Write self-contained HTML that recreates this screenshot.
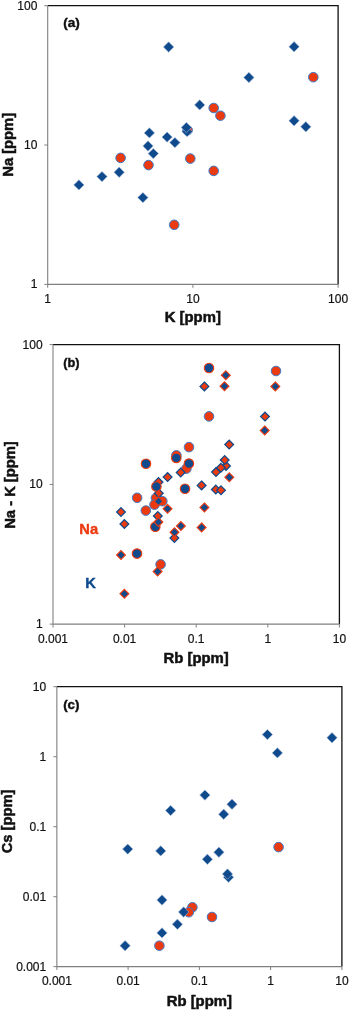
<!DOCTYPE html>
<html><head><meta charset="utf-8"><title>Figure</title>
<style>html,body{margin:0;padding:0;background:#fff}svg{display:block;font-family:"Liberation Sans",Arial,sans-serif}</style>
</head><body>
<svg width="350" height="1010" viewBox="0 0 350 1010">
<rect width="350" height="1010" fill="#fff"/>
<path d="M47.7 5.7H338.1V284.4" fill="none" stroke="#111" stroke-width="1.3"/>
<path d="M47.7 5.7V284.4H338.1" fill="none" stroke="#808080" stroke-width="1.1"/>
<path d="M47.7 284.4v3.4" stroke="#808080" stroke-width="1"/>
<path d="M192.9 284.4v3.4" stroke="#808080" stroke-width="1"/>
<path d="M338.1 284.4v3.4" stroke="#808080" stroke-width="1"/>
<path d="M47.7 5.7h-3.4" stroke="#808080" stroke-width="1"/>
<path d="M47.7 145.0h-3.4" stroke="#808080" stroke-width="1"/>
<path d="M47.7 284.4h-3.4" stroke="#808080" stroke-width="1"/>
<text x="37.4" y="9.7" text-anchor="end" font-size="12" fill="#111" stroke="#111" stroke-width="0.2">100</text>
<text x="37.4" y="149.1" text-anchor="end" font-size="12" fill="#111" stroke="#111" stroke-width="0.2">10</text>
<text x="37.4" y="288.4" text-anchor="end" font-size="12" fill="#111" stroke="#111" stroke-width="0.2">1</text>
<text x="47.7" y="302.6" text-anchor="middle" font-size="12" fill="#111" stroke="#111" stroke-width="0.2">1</text>
<text x="192.9" y="302.6" text-anchor="middle" font-size="12" fill="#111" stroke="#111" stroke-width="0.2">10</text>
<text x="338.1" y="302.6" text-anchor="middle" font-size="12" fill="#111" stroke="#111" stroke-width="0.2">100</text>
<text transform="translate(192.8 322.1) scale(1.015 1.0)" text-anchor="middle" font-size="14.67" font-weight="bold" fill="#111" stroke="#111" stroke-width="0.5">K [ppm]</text>
<text transform="translate(12.9 144.8) rotate(-90) scale(1.005 1.0)" text-anchor="middle" font-size="14.67" font-weight="bold" fill="#111" stroke="#111" stroke-width="0.5">Na [ppm]</text>
<text transform="translate(63.2 26.6) scale(1.1 1)" font-size="12.3" font-weight="bold" fill="#111" stroke="#111" stroke-width="0.4">(a)</text>
<circle cx="313.3" cy="77.2" r="4.80" fill="#EC3A10" stroke="#3C7CCB" stroke-width="1.0"/>
<circle cx="213.7" cy="108.0" r="4.80" fill="#EC3A10" stroke="#3C7CCB" stroke-width="1.0"/>
<circle cx="220.4" cy="115.7" r="4.80" fill="#EC3A10" stroke="#3C7CCB" stroke-width="1.0"/>
<circle cx="120.6" cy="157.9" r="4.80" fill="#EC3A10" stroke="#3C7CCB" stroke-width="1.0"/>
<circle cx="148.5" cy="165.1" r="4.80" fill="#EC3A10" stroke="#3C7CCB" stroke-width="1.0"/>
<circle cx="190.3" cy="158.6" r="4.80" fill="#EC3A10" stroke="#3C7CCB" stroke-width="1.0"/>
<circle cx="213.7" cy="170.9" r="4.80" fill="#EC3A10" stroke="#3C7CCB" stroke-width="1.0"/>
<circle cx="174.2" cy="224.8" r="4.80" fill="#EC3A10" stroke="#3C7CCB" stroke-width="1.0"/>
<circle cx="187.6" cy="130.2" r="4.80" fill="#EC3A10" stroke="#3C7CCB" stroke-width="1.0"/>
<path d="M168.6 41.8L173.8 47.0L168.6 52.2L163.4 47.0Z" fill="#0E4A8C" stroke="#a9bedb" stroke-width="0.6"/>
<path d="M294.1 41.5L299.3 46.7L294.1 51.9L288.9 46.7Z" fill="#0E4A8C" stroke="#a9bedb" stroke-width="0.6"/>
<path d="M248.9 72.3L254.1 77.5L248.9 82.7L243.7 77.5Z" fill="#0E4A8C" stroke="#a9bedb" stroke-width="0.6"/>
<path d="M199.7 99.7L204.9 104.9L199.7 110.1L194.5 104.9Z" fill="#0E4A8C" stroke="#a9bedb" stroke-width="0.6"/>
<path d="M294.1 115.6L299.3 120.8L294.1 126.0L288.9 120.8Z" fill="#0E4A8C" stroke="#a9bedb" stroke-width="0.6"/>
<path d="M305.8 121.6L311.0 126.8L305.8 132.0L300.6 126.8Z" fill="#0E4A8C" stroke="#a9bedb" stroke-width="0.6"/>
<path d="M149.4 127.7L154.6 132.9L149.4 138.1L144.2 132.9Z" fill="#0E4A8C" stroke="#a9bedb" stroke-width="0.6"/>
<path d="M167.1 131.9L172.3 137.1L167.1 142.3L161.9 137.1Z" fill="#0E4A8C" stroke="#a9bedb" stroke-width="0.6"/>
<path d="M187.1 126.4L192.3 131.6L187.1 136.8L181.9 131.6Z" fill="#0E4A8C" stroke="#a9bedb" stroke-width="0.6"/>
<path d="M186.4 122.3L191.6 127.5L186.4 132.7L181.2 127.5Z" fill="#0E4A8C" stroke="#a9bedb" stroke-width="0.6"/>
<path d="M148.0 140.8L153.2 146.0L148.0 151.2L142.8 146.0Z" fill="#0E4A8C" stroke="#a9bedb" stroke-width="0.6"/>
<path d="M153.3 148.4L158.5 153.6L153.3 158.8L148.1 153.6Z" fill="#0E4A8C" stroke="#a9bedb" stroke-width="0.6"/>
<path d="M174.9 137.4L180.1 142.6L174.9 147.8L169.7 142.6Z" fill="#0E4A8C" stroke="#a9bedb" stroke-width="0.6"/>
<path d="M119.2 167.1L124.4 172.3L119.2 177.5L114.0 172.3Z" fill="#0E4A8C" stroke="#a9bedb" stroke-width="0.6"/>
<path d="M102.0 171.4L107.2 176.6L102.0 181.8L96.8 176.6Z" fill="#0E4A8C" stroke="#a9bedb" stroke-width="0.6"/>
<path d="M78.9 179.7L84.1 184.9L78.9 190.1L73.7 184.9Z" fill="#0E4A8C" stroke="#a9bedb" stroke-width="0.6"/>
<path d="M142.9 192.4L148.1 197.6L142.9 202.8L137.7 197.6Z" fill="#0E4A8C" stroke="#a9bedb" stroke-width="0.6"/>
<path d="M53.0 344.6H339.4V624.1" fill="none" stroke="#111" stroke-width="1.3"/>
<path d="M53.0 344.6V624.1H339.4" fill="none" stroke="#808080" stroke-width="1.1"/>
<path d="M53.0 624.1v3.4" stroke="#808080" stroke-width="1"/>
<path d="M124.6 624.1v3.4" stroke="#808080" stroke-width="1"/>
<path d="M196.2 624.1v3.4" stroke="#808080" stroke-width="1"/>
<path d="M267.8 624.1v3.4" stroke="#808080" stroke-width="1"/>
<path d="M339.4 624.1v3.4" stroke="#808080" stroke-width="1"/>
<path d="M53.0 344.6h-3.4" stroke="#808080" stroke-width="1"/>
<path d="M53.0 484.4h-3.4" stroke="#808080" stroke-width="1"/>
<path d="M53.0 624.1h-3.4" stroke="#808080" stroke-width="1"/>
<text x="42.6" y="348.6" text-anchor="end" font-size="12" fill="#111" stroke="#111" stroke-width="0.2">100</text>
<text x="42.6" y="488.4" text-anchor="end" font-size="12" fill="#111" stroke="#111" stroke-width="0.2">10</text>
<text x="42.6" y="628.1" text-anchor="end" font-size="12" fill="#111" stroke="#111" stroke-width="0.2">1</text>
<text x="53.0" y="642.8" text-anchor="middle" font-size="12" fill="#111" stroke="#111" stroke-width="0.2">0.001</text>
<text x="124.6" y="642.8" text-anchor="middle" font-size="12" fill="#111" stroke="#111" stroke-width="0.2">0.01</text>
<text x="196.2" y="642.8" text-anchor="middle" font-size="12" fill="#111" stroke="#111" stroke-width="0.2">0.1</text>
<text x="267.8" y="642.8" text-anchor="middle" font-size="12" fill="#111" stroke="#111" stroke-width="0.2">1</text>
<text x="339.4" y="642.8" text-anchor="middle" font-size="12" fill="#111" stroke="#111" stroke-width="0.2">10</text>
<text transform="translate(196.1 662.9) scale(1.015 1.0)" text-anchor="middle" font-size="14.67" font-weight="bold" fill="#111" stroke="#111" stroke-width="0.5">Rb [ppm]</text>
<text transform="translate(15 485) rotate(-90) scale(1.005 1.0)" text-anchor="middle" font-size="14.67" font-weight="bold" fill="#111" stroke="#111" stroke-width="0.5">Na - K [ppm]</text>
<text transform="translate(63.3 366.6) scale(1.04 1)" font-size="12.3" font-weight="bold" fill="#111" stroke="#111" stroke-width="0.4">(b)</text>
<text x="79.3" y="534" font-size="14.67" font-weight="bold" fill="#EC3A10" stroke="#EC3A10" stroke-width="0.4">Na</text>
<text x="85.3" y="588" font-size="14.67" font-weight="bold" fill="#0E4A8C" stroke="#0E4A8C" stroke-width="0.4">K</text>
<circle cx="276.0" cy="371.0" r="4.80" fill="#EC3A10" stroke="#3C7CCB" stroke-width="1.0"/>
<circle cx="209.0" cy="416.4" r="4.80" fill="#EC3A10" stroke="#3C7CCB" stroke-width="1.0"/>
<circle cx="189.0" cy="447.1" r="4.80" fill="#EC3A10" stroke="#3C7CCB" stroke-width="1.0"/>
<circle cx="176.4" cy="455.4" r="4.80" fill="#EC3A10" stroke="#3C7CCB" stroke-width="1.0"/>
<circle cx="186.4" cy="468.6" r="4.80" fill="#EC3A10" stroke="#3C7CCB" stroke-width="1.0"/>
<circle cx="137.1" cy="497.8" r="4.80" fill="#EC3A10" stroke="#3C7CCB" stroke-width="1.0"/>
<circle cx="155.9" cy="498.1" r="4.80" fill="#EC3A10" stroke="#3C7CCB" stroke-width="1.0"/>
<circle cx="162.3" cy="501.2" r="4.80" fill="#EC3A10" stroke="#3C7CCB" stroke-width="1.0"/>
<circle cx="154.5" cy="504.7" r="4.80" fill="#EC3A10" stroke="#3C7CCB" stroke-width="1.0"/>
<circle cx="145.8" cy="510.6" r="4.80" fill="#EC3A10" stroke="#3C7CCB" stroke-width="1.0"/>
<circle cx="160.6" cy="564.4" r="4.80" fill="#EC3A10" stroke="#3C7CCB" stroke-width="1.0"/>
<path d="M204.4 382.03L208.77 386.4L204.4 390.77L200.03 386.4Z" fill="#EC3A10" stroke="#0E4A8C" stroke-width="1.25"/>
<path d="M265.0 412.23L269.37 416.6L265.0 420.97L260.63 416.6Z" fill="#EC3A10" stroke="#0E4A8C" stroke-width="1.25"/>
<path d="M229.2 440.23L233.57 444.6L229.2 448.97L224.83 444.6Z" fill="#EC3A10" stroke="#0E4A8C" stroke-width="1.25"/>
<path d="M226.0 461.53L230.37 465.9L226.0 470.27L221.63 465.9Z" fill="#EC3A10" stroke="#0E4A8C" stroke-width="1.25"/>
<path d="M224.7 455.63L229.07 460.0L224.7 464.37L220.33 460.0Z" fill="#EC3A10" stroke="#0E4A8C" stroke-width="1.25"/>
<path d="M216.0 467.73L220.37 472.1L216.0 476.47L211.63 472.1Z" fill="#EC3A10" stroke="#0E4A8C" stroke-width="1.25"/>
<path d="M220.9 463.33L225.27 467.7L220.9 472.07L216.53 467.7Z" fill="#EC3A10" stroke="#0E4A8C" stroke-width="1.25"/>
<path d="M180.7 468.13L185.07 472.5L180.7 476.87L176.33 472.5Z" fill="#EC3A10" stroke="#0E4A8C" stroke-width="1.25"/>
<path d="M167.6 472.73L171.97 477.1L167.6 481.47L163.23 477.1Z" fill="#EC3A10" stroke="#0E4A8C" stroke-width="1.25"/>
<path d="M158.5 477.63L162.87 482.0L158.5 486.37L154.13 482.0Z" fill="#EC3A10" stroke="#0E4A8C" stroke-width="1.25"/>
<path d="M201.6 481.03L205.97 485.4L201.6 489.77L197.23 485.4Z" fill="#EC3A10" stroke="#0E4A8C" stroke-width="1.25"/>
<path d="M215.8 485.13L220.17 489.5L215.8 493.87L211.43 489.5Z" fill="#EC3A10" stroke="#0E4A8C" stroke-width="1.25"/>
<path d="M221.0 485.83L225.37 490.2L221.0 494.57L216.63 490.2Z" fill="#EC3A10" stroke="#0E4A8C" stroke-width="1.25"/>
<path d="M158.8 488.93L163.17 493.3L158.8 497.67L154.43 493.3Z" fill="#EC3A10" stroke="#0E4A8C" stroke-width="1.25"/>
<path d="M121.0 507.63L125.37 512.0L121.0 516.37L116.63 512.0Z" fill="#EC3A10" stroke="#0E4A8C" stroke-width="1.25"/>
<path d="M157.8 511.63L162.17 516.0L157.8 520.37L153.43 516.0Z" fill="#EC3A10" stroke="#0E4A8C" stroke-width="1.25"/>
<path d="M124.4 519.63L128.77 524.0L124.4 528.37L120.03 524.0Z" fill="#EC3A10" stroke="#0E4A8C" stroke-width="1.25"/>
<path d="M174.4 533.63L178.77 538.0L174.4 542.37L170.03 538.0Z" fill="#EC3A10" stroke="#0E4A8C" stroke-width="1.25"/>
<circle cx="209.0" cy="368.0" r="4.75" fill="#0E4A8C" stroke="#EC3A10" stroke-width="1.1"/>
<circle cx="176.3" cy="457.9" r="4.75" fill="#0E4A8C" stroke="#EC3A10" stroke-width="1.1"/>
<circle cx="146.0" cy="463.7" r="4.75" fill="#0E4A8C" stroke="#EC3A10" stroke-width="1.1"/>
<circle cx="188.9" cy="463.6" r="4.75" fill="#0E4A8C" stroke="#EC3A10" stroke-width="1.1"/>
<circle cx="156.4" cy="486.5" r="4.75" fill="#0E4A8C" stroke="#EC3A10" stroke-width="1.1"/>
<circle cx="185.0" cy="488.8" r="4.75" fill="#0E4A8C" stroke="#EC3A10" stroke-width="1.1"/>
<circle cx="155.3" cy="526.8" r="4.75" fill="#0E4A8C" stroke="#EC3A10" stroke-width="1.1"/>
<circle cx="137.0" cy="553.6" r="4.75" fill="#0E4A8C" stroke="#EC3A10" stroke-width="1.1"/>
<path d="M225.8 370.80L230.20 375.2L225.8 379.60L221.40 375.2Z" fill="#0E4A8C" stroke="#EC3A10" stroke-width="1.2"/>
<path d="M224.5 381.80L228.90 386.2L224.5 390.60L220.10 386.2Z" fill="#0E4A8C" stroke="#EC3A10" stroke-width="1.2"/>
<path d="M275.3 382.00L279.70 386.4L275.3 390.80L270.90 386.4Z" fill="#0E4A8C" stroke="#EC3A10" stroke-width="1.2"/>
<path d="M264.7 426.00L269.10 430.4L264.7 434.80L260.30 430.4Z" fill="#0E4A8C" stroke="#EC3A10" stroke-width="1.2"/>
<path d="M229.3 472.90L233.70 477.3L229.3 481.70L224.90 477.3Z" fill="#0E4A8C" stroke="#EC3A10" stroke-width="1.2"/>
<path d="M158.6 496.90L163.00 501.3L158.6 505.70L154.20 501.3Z" fill="#0E4A8C" stroke="#EC3A10" stroke-width="1.2"/>
<path d="M204.4 503.00L208.80 507.4L204.4 511.80L200.00 507.4Z" fill="#0E4A8C" stroke="#EC3A10" stroke-width="1.2"/>
<path d="M167.5 504.40L171.90 508.8L167.5 513.20L163.10 508.8Z" fill="#0E4A8C" stroke="#EC3A10" stroke-width="1.2"/>
<path d="M158.4 517.60L162.80 522.0L158.4 526.40L154.00 522.0Z" fill="#0E4A8C" stroke="#EC3A10" stroke-width="1.2"/>
<path d="M180.9 521.60L185.30 526.0L180.9 530.40L176.50 526.0Z" fill="#0E4A8C" stroke="#EC3A10" stroke-width="1.2"/>
<path d="M201.6 523.00L206.00 527.4L201.6 531.80L197.20 527.4Z" fill="#0E4A8C" stroke="#EC3A10" stroke-width="1.2"/>
<path d="M174.5 527.80L178.90 532.2L174.5 536.60L170.10 532.2Z" fill="#0E4A8C" stroke="#EC3A10" stroke-width="1.2"/>
<path d="M121.0 550.60L125.40 555.0L121.0 559.40L116.60 555.0Z" fill="#0E4A8C" stroke="#EC3A10" stroke-width="1.2"/>
<path d="M157.6 567.20L162.00 571.6L157.6 576.00L153.20 571.6Z" fill="#0E4A8C" stroke="#EC3A10" stroke-width="1.2"/>
<path d="M124.4 589.40L128.80 593.8L124.4 598.20L120.00 593.8Z" fill="#0E4A8C" stroke="#EC3A10" stroke-width="1.2"/>
<path d="M56.85 686.7H341.9V966.65" fill="none" stroke="#111" stroke-width="1.3"/>
<path d="M56.85 686.7V966.65H341.9" fill="none" stroke="#808080" stroke-width="1.1"/>
<path d="M56.9 966.65v3.4" stroke="#808080" stroke-width="1"/>
<path d="M128.1 966.65v3.4" stroke="#808080" stroke-width="1"/>
<path d="M199.4 966.65v3.4" stroke="#808080" stroke-width="1"/>
<path d="M270.6 966.65v3.4" stroke="#808080" stroke-width="1"/>
<path d="M341.9 966.65v3.4" stroke="#808080" stroke-width="1"/>
<path d="M56.85 686.7h-3.4" stroke="#808080" stroke-width="1"/>
<path d="M56.85 756.7h-3.4" stroke="#808080" stroke-width="1"/>
<path d="M56.85 826.7h-3.4" stroke="#808080" stroke-width="1"/>
<path d="M56.85 896.7h-3.4" stroke="#808080" stroke-width="1"/>
<path d="M56.85 966.6h-3.4" stroke="#808080" stroke-width="1"/>
<text x="46.2" y="690.7" text-anchor="end" font-size="12" fill="#111" stroke="#111" stroke-width="0.2">10</text>
<text x="46.2" y="760.7" text-anchor="end" font-size="12" fill="#111" stroke="#111" stroke-width="0.2">1</text>
<text x="46.2" y="830.7" text-anchor="end" font-size="12" fill="#111" stroke="#111" stroke-width="0.2">0.1</text>
<text x="46.2" y="900.7" text-anchor="end" font-size="12" fill="#111" stroke="#111" stroke-width="0.2">0.01</text>
<text x="46.2" y="970.7" text-anchor="end" font-size="12" fill="#111" stroke="#111" stroke-width="0.2">0.001</text>
<text x="56.9" y="985.2" text-anchor="middle" font-size="12" fill="#111" stroke="#111" stroke-width="0.2">0.001</text>
<text x="128.1" y="985.2" text-anchor="middle" font-size="12" fill="#111" stroke="#111" stroke-width="0.2">0.01</text>
<text x="199.4" y="985.2" text-anchor="middle" font-size="12" fill="#111" stroke="#111" stroke-width="0.2">0.1</text>
<text x="270.6" y="985.2" text-anchor="middle" font-size="12" fill="#111" stroke="#111" stroke-width="0.2">1</text>
<text x="341.9" y="985.2" text-anchor="middle" font-size="12" fill="#111" stroke="#111" stroke-width="0.2">10</text>
<text transform="translate(199.3 1005.7) scale(1.015 1.0)" text-anchor="middle" font-size="14.67" font-weight="bold" fill="#111" stroke="#111" stroke-width="0.5">Rb [ppm]</text>
<text transform="translate(12.3 821.4) rotate(-90) scale(1.005 1.0)" text-anchor="middle" font-size="14.67" font-weight="bold" fill="#111" stroke="#111" stroke-width="0.5">Cs [ppm]</text>
<text transform="translate(63.2 709.0) scale(1.08 1)" font-size="12.3" font-weight="bold" fill="#111" stroke="#111" stroke-width="0.4">(c)</text>
<circle cx="278.6" cy="847.1" r="4.80" fill="#EC3A10" stroke="#3C7CCB" stroke-width="1.0"/>
<circle cx="192.4" cy="907.3" r="4.80" fill="#EC3A10" stroke="#3C7CCB" stroke-width="1.0"/>
<circle cx="188.8" cy="912.2" r="4.80" fill="#EC3A10" stroke="#3C7CCB" stroke-width="1.0"/>
<circle cx="212.0" cy="917.0" r="4.80" fill="#EC3A10" stroke="#3C7CCB" stroke-width="1.0"/>
<circle cx="159.4" cy="945.7" r="4.80" fill="#EC3A10" stroke="#3C7CCB" stroke-width="1.0"/>
<path d="M267.4 729.4L272.6 734.6L267.4 739.8L262.2 734.6Z" fill="#0E4A8C" stroke="#a9bedb" stroke-width="0.6"/>
<path d="M277.4 747.7L282.6 752.9L277.4 758.1L272.2 752.9Z" fill="#0E4A8C" stroke="#a9bedb" stroke-width="0.6"/>
<path d="M332.0 732.5L337.2 737.7L332.0 742.9L326.8 737.7Z" fill="#0E4A8C" stroke="#a9bedb" stroke-width="0.6"/>
<path d="M204.9 789.9L210.1 795.1L204.9 800.3L199.7 795.1Z" fill="#0E4A8C" stroke="#a9bedb" stroke-width="0.6"/>
<path d="M232.0 799.1L237.2 804.3L232.0 809.5L226.8 804.3Z" fill="#0E4A8C" stroke="#a9bedb" stroke-width="0.6"/>
<path d="M223.7 809.1L228.9 814.3L223.7 819.5L218.5 814.3Z" fill="#0E4A8C" stroke="#a9bedb" stroke-width="0.6"/>
<path d="M170.6 805.3L175.8 810.5L170.6 815.7L165.4 810.5Z" fill="#0E4A8C" stroke="#a9bedb" stroke-width="0.6"/>
<path d="M127.7 843.9L132.9 849.1L127.7 854.3L122.5 849.1Z" fill="#0E4A8C" stroke="#a9bedb" stroke-width="0.6"/>
<path d="M160.7 845.7L165.9 850.9L160.7 856.1L155.5 850.9Z" fill="#0E4A8C" stroke="#a9bedb" stroke-width="0.6"/>
<path d="M218.9 847.0L224.1 852.2L218.9 857.4L213.7 852.2Z" fill="#0E4A8C" stroke="#a9bedb" stroke-width="0.6"/>
<path d="M207.4 854.1L212.6 859.3L207.4 864.5L202.2 859.3Z" fill="#0E4A8C" stroke="#a9bedb" stroke-width="0.6"/>
<path d="M228.5 872.0L233.7 877.2L228.5 882.4L223.3 877.2Z" fill="#0E4A8C" stroke="#a9bedb" stroke-width="0.6"/>
<path d="M227.5 868.8L232.7 874.0L227.5 879.2L222.3 874.0Z" fill="#0E4A8C" stroke="#a9bedb" stroke-width="0.6"/>
<path d="M162.0 894.8L167.2 900.0L162.0 905.2L156.8 900.0Z" fill="#0E4A8C" stroke="#a9bedb" stroke-width="0.6"/>
<path d="M183.6 906.8L188.8 912.0L183.6 917.2L178.4 912.0Z" fill="#0E4A8C" stroke="#a9bedb" stroke-width="0.6"/>
<path d="M177.4 919.1L182.6 924.3L177.4 929.5L172.2 924.3Z" fill="#0E4A8C" stroke="#a9bedb" stroke-width="0.6"/>
<path d="M162.0 927.7L167.2 932.9L162.0 938.1L156.8 932.9Z" fill="#0E4A8C" stroke="#a9bedb" stroke-width="0.6"/>
<path d="M125.1 940.5L130.3 945.7L125.1 950.9L119.9 945.7Z" fill="#0E4A8C" stroke="#a9bedb" stroke-width="0.6"/>
</svg>
</body></html>
